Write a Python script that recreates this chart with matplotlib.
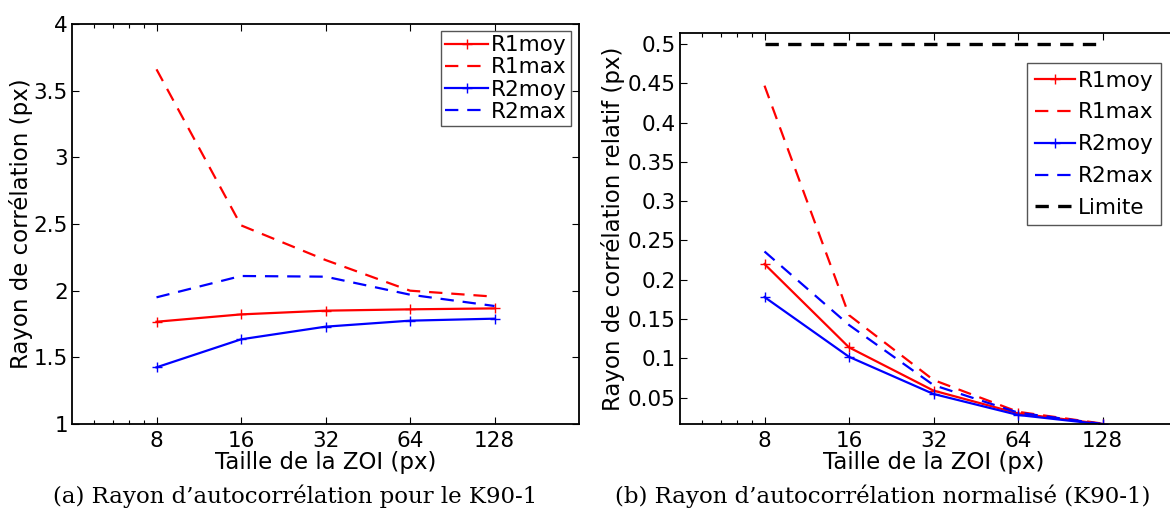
import matplotlib
matplotlib.use('Agg')
import matplotlib.pyplot as plt
from matplotlib.ticker import FixedLocator, FormatStrFormatter, NullFormatter

# ZOI sizes (px)
zoi = [8, 16, 32, 64, 128]
xticks = [8, 16, 32, 64, 128]
xminor = [4.8, 5.6, 6.4, 7.2]

# (a) autocorrelation radius
r1moy = [1.767, 1.822, 1.850, 1.860, 1.867]
r1max = [3.66, 2.49, 2.23, 2.00, 1.955]
r2moy = [1.425, 1.635, 1.730, 1.775, 1.790]
r2max = [1.950, 2.110, 2.105, 1.970, 1.885]

# (b) normalized radius
r1moy_n = [0.220, 0.114, 0.059, 0.030, 0.0165]
r1max_n = [0.447, 0.155, 0.0725, 0.032, 0.017]
r2moy_n = [0.178, 0.102, 0.0547, 0.028, 0.016]
r2max_n = [0.236, 0.1425, 0.066, 0.031, 0.0165]
limite = [0.5, 0.5, 0.5, 0.5, 0.5]

W, H = 1170, 511
fig = plt.figure(figsize=(W / 100, H / 100), dpi=100)
plt.rcParams['font.family'] = ['DejaVu Sans']
tick_fs = 15.5
label_fs = 16.5
leg_fs = 15.5

def style_axes(ax):
    ax.set_xscale('log', base=2)
    ax.set_xlim(4, 256)
    ax.xaxis.set_major_locator(FixedLocator(xticks))
    ax.xaxis.set_minor_locator(FixedLocator(xminor))
    ax.xaxis.set_major_formatter(FormatStrFormatter('%d'))
    ax.xaxis.set_minor_formatter(NullFormatter())
    ax.yaxis.set_major_formatter(FormatStrFormatter('%g'))
    ax.tick_params(which='both', direction='in', top=True, right=True, labelsize=tick_fs)
    ax.tick_params(axis='x', pad=5)
    ax.tick_params(axis='y', pad=3)
    ax.tick_params(which='major', length=5, width=0.8)
    ax.tick_params(which='minor', length=3, width=0.8)
    for s in ax.spines.values():
        s.set_linewidth(1.3)
    ax.set_xlabel('Taille de la ZOI (px)', fontsize=label_fs, labelpad=0)

lw = 1.6
ms = 7
mew = 1.0
dash = (6, 4)

# left plot
ax1 = fig.add_axes([72 / W, 87 / H, 507 / W, 400 / H])
ax1.plot(zoi, r1moy, color='red', ls='-', marker='+', ms=ms, mew=mew, lw=lw, label='R1moy')
ax1.plot(zoi, r1max, color='red', ls='--', lw=lw, dashes=dash, label='R1max')
ax1.plot(zoi, r2moy, color='blue', ls='-', marker='+', ms=ms, mew=mew, lw=lw, label='R2moy')
ax1.plot(zoi, r2max, color='blue', ls='--', lw=lw, dashes=dash, label='R2max')
style_axes(ax1)
ax1.set_ylim(1, 4)
ax1.set_yticks([1, 1.5, 2, 2.5, 3, 3.5, 4])
ax1.set_ylabel('Rayon de corrélation (px)', fontsize=label_fs, labelpad=0)
leg1 = ax1.legend(loc='upper left', bbox_to_anchor=((441 - 72) / 507, (424 - 31) / 400), fontsize=leg_fs,
                  numpoints=1, handlelength=2.0, handletextpad=0.1, borderpad=0.2, labelspacing=0.1,
                  borderaxespad=0, fancybox=False, framealpha=1, edgecolor='#555555')
leg1.get_frame().set_linewidth(1.0)

# right plot
ax2 = fig.add_axes([680 / W, 87 / H, 507 / W, 391 / H])
ax2.plot(zoi, r1moy_n, color='red', ls='-', marker='+', ms=ms, mew=mew, lw=lw, label='R1moy')
ax2.plot(zoi, r1max_n, color='red', ls='--', lw=lw, dashes=dash, label='R1max')
ax2.plot(zoi, r2moy_n, color='blue', ls='-', marker='+', ms=ms, mew=mew, lw=lw, label='R2moy')
ax2.plot(zoi, r2max_n, color='blue', ls='--', lw=lw, dashes=dash, label='R2max')
ax2.plot(zoi, limite, color='black', ls='--', lw=2.4, dashes=(4, 2.8), label='Limite')
style_axes(ax2)
ax2.set_ylim(0.0165, 0.514)
ax2.set_yticks([0.05, 0.1, 0.15, 0.2, 0.25, 0.3, 0.35, 0.4, 0.45, 0.5])
ax2.set_ylabel('Rayon de corrélation relatif (px)', fontsize=label_fs, labelpad=2)
leg2 = ax2.legend(loc='upper left', bbox_to_anchor=((1027 - 680) / 507, (424 - 63) / 391), fontsize=leg_fs,
                  numpoints=1, handlelength=1.9, handletextpad=0.1, borderpad=0.35, labelspacing=0.55,
                  borderaxespad=0, fancybox=False, framealpha=1, edgecolor='#555555')
leg2.get_frame().set_linewidth(1.0)

# captions
cap_font = ['DejaVu Serif']
fig.text(295 / W, 1 - 496 / H, "(a) Rayon d\u2019autocorrélation pour le K90-1", ha='center', va='center',
         fontsize=16.5, family=cap_font)
fig.text(883 / W, 1 - 496 / H, "(b) Rayon d\u2019autocorrélation normalisé (K90-1)", ha='center', va='center',
         fontsize=16.5, family=cap_font)

fig.savefig('out.png', dpi=100)
